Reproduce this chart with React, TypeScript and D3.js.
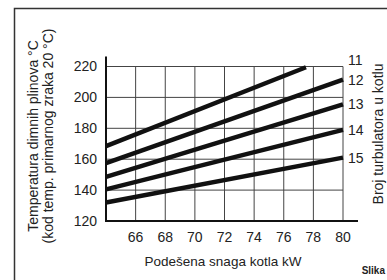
import React from 'react';
import { scaleLinear, line } from 'd3';

const xTicks = [66, 68, 70, 72, 74, 76, 78, 80];
const yTicks = [120, 140, 160, 180, 200, 220];
const seriesNames = ['11', '12', '13', '14', '15'];
const seriesPower = [
  [64, 77.5],
  [64, 80],
  [64, 80],
  [64, 80],
  [64, 80],
];
const seriesTemp = [
  [168.5, 219.5],
  [157.5, 211.5],
  [148.5, 195.5],
  [140.5, 179],
  [132, 161],
];
const labelTemp = [224, 211.5, 195.5, 179, 161];

const W = 387;
const H = 280;
const margin = { top: 66.5, right: 44, bottom: 59, left: 106 };
const font = 'Arial, "Liberation Sans", Helvetica, sans-serif';

const App = () => {
  const xScale = scaleLinear().domain([64, 80]).range([margin.left, W - margin.right]);
  const yScale = scaleLinear().domain([120, 220]).range([H - margin.bottom, margin.top]);
  const x0 = xScale(64);
  const x1 = xScale(80);
  const y0 = yScale(120);
  const y1 = yScale(220);

  const lineGen = line<[number, number]>()
    .x(d => xScale(d[0]))
    .y(d => yScale(d[1]));

  return (
    <svg width={W} height={H} style={{ position: 'absolute', left: 0, top: 0, background: '#fff' }}>
      <rect x={14.5} y={8.5} width={W + 10} height={H + 10} fill="none" stroke="#333" strokeWidth={1.5} />

      {/* grid */}
      {xTicks.map(t => (
        <line key={'gx' + t} x1={xScale(t)} x2={xScale(t)} y1={y1} y2={y0} stroke="#444" strokeWidth={1} />
      ))}
      {yTicks.filter(t => t > 120).map(t => (
        <line key={'gy' + t} x1={x0} x2={x1} y1={yScale(t)} y2={yScale(t)} stroke="#444" strokeWidth={1} />
      ))}

      {/* axes */}
      <path d={`M ${x0} ${y1 - 10} V ${y0} H ${x1 + 15}`} fill="none" stroke="#111" strokeWidth={2} />

      {/* series */}
      {seriesNames.map((name, i) => {
        const pts = seriesPower[i].map((p, j) => [p, seriesTemp[i][j]] as [number, number]);
        return (
          <path key={name} d={lineGen(pts) || ''} fill="none" stroke="#111" strokeWidth={4.5} />
        );
      })}
      {seriesNames.map((name, i) => (
        <text key={'l' + name} x={x1 + 5} y={yScale(labelTemp[i])} dy="0.35em"
          style={{ fontFamily: font, fontSize: '14px' }} fill="#222">{name}</text>
      ))}

      {/* tick labels */}
      {xTicks.map(t => (
        <text key={'tx' + t} x={xScale(t)} y={y0 + 21} textAnchor="middle"
          style={{ fontFamily: font, fontSize: '14px' }} fill="#222">{t}</text>
      ))}
      {yTicks.map(t => (
        <text key={'ty' + t} x={x0 - 9} y={yScale(t)} dy="0.35em" textAnchor="end"
          style={{ fontFamily: font, fontSize: '14px' }} fill="#222">{t}</text>
      ))}

      {/* titles */}
      <text x={223} y={266} textAnchor="middle" style={{ fontFamily: font, fontSize: '13.5px' }} fill="#222">
        Podešena snaga kotla kW
      </text>
      <text transform="translate(38, 136) rotate(-90)" textAnchor="middle"
        style={{ fontFamily: font, fontSize: '14px' }} fill="#222">Temperatura dimnih plinova °C</text>
      <text transform="translate(53, 136) rotate(-90)" textAnchor="middle"
        style={{ fontFamily: font, fontSize: '14px' }} fill="#222">(kod temp. primarnog zraka 20 °C)</text>
      <text transform="translate(383, 134) rotate(-90)" textAnchor="middle"
        style={{ fontFamily: font, fontSize: '14px' }} fill="#222">Broj turbulatora u kotlu</text>
      <text x={385} y={274} textAnchor="end" style={{ fontFamily: font, fontSize: '10px', fontWeight: 'bold' }} fill="#222">
        Slika
      </text>
    </svg>
  );
};

export default App;
